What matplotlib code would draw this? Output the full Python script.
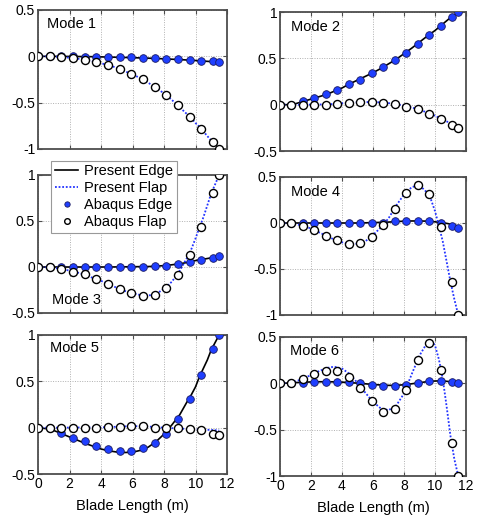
import numpy as np
import matplotlib
matplotlib.use("Agg")
import matplotlib.pyplot as plt

plt.rcParams['font.family'] = ['Liberation Sans', 'DejaVu Sans']
plt.rcParams['axes.unicode_minus'] = False

# Abaqus sample positions (m)
x_abaqus = [0.0, 0.74, 1.48, 2.22, 2.96, 3.7, 4.44, 5.18, 5.92, 6.66,
            7.4, 8.14, 8.88, 9.62, 10.36, 11.1, 11.5]
# Present-model curve positions (m)
x_present = [0.0, 0.5, 1.0, 1.5, 2.0, 2.5, 3.0, 3.5, 4.0, 4.5, 5.0, 5.5,
             6.0, 6.5, 7.0, 7.5, 8.0, 8.5, 9.0, 9.5, 9.75, 10.0, 10.25,
             10.5, 10.75, 11.0, 11.25, 11.5]

# ---- Mode 1 ----
m1_present_edge = [0, 0, 0, -0.001, -0.001, -0.002, -0.003, -0.004, -0.006, -0.008,
                   -0.01, -0.012, -0.015, -0.017, -0.02, -0.023, -0.027, -0.031,
                   -0.035, -0.04, -0.043, -0.045, -0.048, -0.051, -0.054, -0.057,
                   -0.061, -0.065]
m1_present_flap = [0, 0, -0.002, -0.007, -0.015, -0.025, -0.037, -0.055, -0.075,
                   -0.095, -0.125, -0.16, -0.195, -0.235, -0.285, -0.34, -0.40,
                   -0.47, -0.55, -0.63, -0.67, -0.72, -0.76, -0.81, -0.86, -0.91,
                   -0.95, -1.0]
m1_abaqus_edge = [0, 0, 0, 0, -0.002, -0.004, -0.006, -0.009, -0.012, -0.016,
                  -0.02, -0.025, -0.03, -0.037, -0.045, -0.055, -0.065]
m1_abaqus_flap = [0, 0, -0.007, -0.02, -0.035, -0.065, -0.09, -0.14, -0.19,
                  -0.25, -0.33, -0.42, -0.53, -0.65, -0.78, -0.92, -1.0]

# ---- Mode 2 ----
m2_present_edge = [0, 0, 0.01, 0.035, 0.06, 0.085, 0.11, 0.145, 0.18, 0.225,
                   0.265, 0.305, 0.345, 0.39, 0.44, 0.49, 0.55, 0.61, 0.675,
                   0.74, 0.77, 0.80, 0.835, 0.87, 0.905, 0.94, 0.97, 1.0]
m2_present_flap = [0, 0, 0, 0, 0.001, 0.002, 0.003, 0.008, 0.015, 0.02, 0.025,
                   0.028, 0.028, 0.025, 0.017, 0.005, -0.01, -0.03, -0.055,
                   -0.085, -0.1, -0.12, -0.14, -0.16, -0.18, -0.205, -0.23, -0.25]
m2_abaqus_edge = [0, 0, 0.04, 0.07, 0.11, 0.16, 0.22, 0.27, 0.34, 0.41, 0.48,
                  0.56, 0.66, 0.75, 0.85, 0.95, 1.0]
m2_abaqus_flap = [0, 0, 0, 0, 0, 0.007, 0.015, 0.025, 0.03, 0.02, 0.007,
                  -0.02, -0.05, -0.1, -0.15, -0.22, -0.25]

# ---- Mode 3 ----
m3_present_edge = [0, 0, 0, 0, 0, 0, 0, 0, 0, 0, 0.001, 0.002, 0.003, 0.004,
                   0.005, 0.009, 0.015, 0.024, 0.035, 0.05, 0.06, 0.07, 0.077,
                   0.085, 0.092, 0.1, 0.11, 0.12]
m3_present_flap = [0, -0.003, -0.01, -0.02, -0.04, -0.06, -0.085, -0.12, -0.15,
                   -0.19, -0.225, -0.26, -0.285, -0.305, -0.31, -0.295, -0.235,
                   -0.16, -0.04, 0.11, 0.2, 0.31, 0.43, 0.54, 0.67, 0.80, 0.9, 1.0]
m3_abaqus_edge = [0, 0, 0, 0, 0, 0, 0, 0, 0.002, 0.004, 0.007, 0.015, 0.03,
                  0.05, 0.08, 0.1, 0.12]
m3_abaqus_flap = [0, 0, -0.02, -0.05, -0.08, -0.13, -0.18, -0.235, -0.28,
                  -0.31, -0.30, -0.23, -0.09, 0.13, 0.44, 0.80, 1.0]

# ---- Mode 4 ----
m4_present_edge = [0, 0, 0, 0, 0, 0, 0, 0, 0, 0, 0, 0.002, 0.004, 0.007, 0.01,
                   0.015, 0.02, 0.022, 0.022, 0.02, 0.017, 0.013, 0.008, 0.003,
                   -0.004, -0.012, -0.022, -0.035]
m4_present_flap = [0, -0.003, -0.012, -0.03, -0.06, -0.1, -0.14, -0.18, -0.21,
                   -0.23, -0.225, -0.2, -0.13, -0.05, 0.05, 0.19, 0.31, 0.39,
                   0.41, 0.33, 0.25, 0.13, -0.03, -0.2, -0.42, -0.64, -0.83, -1.0]
m4_abaqus_edge = [0, 0, 0, 0, 0, 0, 0, 0, 0, 0.005, 0.018, 0.025, 0.025,
                  0.018, 0.0, -0.036, -0.055]
m4_abaqus_flap = [0, 0, -0.03, -0.08, -0.138, -0.19, -0.23, -0.22, -0.15,
                  -0.018, 0.156, 0.33, 0.415, 0.316, -0.047, -0.64, -1.0]

# ---- Mode 5 ----
m5_present_edge = [0, -0.01, -0.03, -0.065, -0.1, -0.135, -0.17, -0.2, -0.23,
                   -0.25, -0.263, -0.268, -0.265, -0.245, -0.21, -0.15, -0.07,
                   0.03, 0.14, 0.29, 0.36, 0.44, 0.55, 0.64, 0.73, 0.84, 0.92, 1.0]
m5_present_flap = [0, 0, 0, 0, 0.001, 0.002, 0.002, 0.003, 0.003, 0.006, 0.01,
                   0.014, 0.017, 0.015, 0.012, 0.006, 0.0, -0.005, -0.01, -0.014,
                   -0.016, -0.018, -0.02, -0.021, -0.023, -0.025, -0.027, -0.03]
m5_abaqus_edge = [0, -0.007, -0.058, -0.108, -0.148, -0.195, -0.227, -0.252,
                  -0.252, -0.224, -0.17, -0.068, 0.097, 0.306, 0.566, 0.845, 1.0]
m5_abaqus_flap = [0, 0, 0, -0.002, -0.002, 0, 0.004, 0.01, 0.02, 0.018, 0,
                  -0.007, -0.007, -0.01, -0.03, -0.065, -0.083]

# ---- Mode 6 ----
m6_present_edge = [0, 0.003, 0.008, 0.012, 0.015, 0.017, 0.017, 0.016, 0.013,
                   0.008, 0.002, -0.005, -0.012, -0.018, -0.022, -0.022, -0.015,
                   -0.005, 0.007, 0.018, 0.022, 0.025, 0.026, 0.025, 0.022,
                   0.017, 0.012, 0.007]
m6_present_flap = [0, 0.005, 0.02, 0.05, 0.09, 0.13, 0.165, 0.18, 0.16, 0.1,
                   0.005, -0.1, -0.2, -0.27, -0.29, -0.24, -0.11, 0.1, 0.3,
                   0.44, 0.46, 0.41, 0.26, 0.05, -0.25, -0.57, -0.82, -1.0]
m6_abaqus_edge = [0, 0.003, 0.008, 0.015, 0.015, 0.015, 0.015, 0.0, -0.015,
                  -0.025, -0.029, -0.015, 0.007, 0.025, 0.025, 0.015, 0.007]
m6_abaqus_flap = [0, 0.007, 0.043, 0.098, 0.138, 0.138, 0.072, -0.047, -0.19,
                  -0.31, -0.28, -0.076, 0.25, 0.43, 0.145, -0.64, -1.0]

mode_labels = ["Mode 1", "Mode 2", "Mode 3", "Mode 4", "Mode 5", "Mode 6"]
x_ticks = [0, 2, 4, 6, 8, 10, 12]
x_label = "Blade Length (m)"
legend_labels = ["Present Edge", "Present Flap", "Abaqus Edge", "Abaqus Flap"]

modes = [
    (m1_present_edge, m1_present_flap, m1_abaqus_edge, m1_abaqus_flap),
    (m2_present_edge, m2_present_flap, m2_abaqus_edge, m2_abaqus_flap),
    (m3_present_edge, m3_present_flap, m3_abaqus_edge, m3_abaqus_flap),
    (m4_present_edge, m4_present_flap, m4_abaqus_edge, m4_abaqus_flap),
    (m5_present_edge, m5_present_flap, m5_abaqus_edge, m5_abaqus_flap),
    (m6_present_edge, m6_present_flap, m6_abaqus_edge, m6_abaqus_flap),
]
ylims = [(-1, 0.5), (-0.5, 1), (-0.5, 1), (-1, 0.5), (-0.5, 1), (-1, 0.5)]

W, H = 484, 520
fig = plt.figure(figsize=(W / 100, H / 100), dpi=100)

# axes rectangles in pixels (left, top, right, bottom)
rects_px = [
    (38, 10, 227, 149), (280, 12, 466, 151),
    (38, 175, 227, 313), (280, 177, 466, 315),
    (38, 335, 227, 474), (280, 337, 466, 476),
]
label_pos = [(0.05, 0.95, 'top'), (0.06, 0.94, 'top'), (0.075, 0.04, 'bottom'),
             (0.06, 0.94, 'top'), (0.065, 0.955, 'top'), (0.055, 0.95, 'top')]

frame_col = '#4d4d4d'
blue = '#1f3fff'
axes = []
for k, (l, t, r, b) in enumerate(rects_px):
    ax = fig.add_axes([l / W, 1 - b / H, (r - l) / W, (b - t) / H])
    axes.append(ax)
    pe, pf, ae, af = modes[k]
    ax.plot(x_present, pe, color='black', lw=1.2, zorder=3, label=legend_labels[0])
    ax.plot(x_present, pf, color='#2233ff', lw=1.3, ls=(0, (1, 1)), zorder=3,
            label=legend_labels[1])
    ax.plot(x_abaqus, ae, ls='none', marker='o', ms=5.5, mfc=blue, mec='#1a1a60',
            mew=0.6, zorder=4, label=legend_labels[2])
    ax.plot(x_abaqus, af, ls='none', marker='o', ms=5.8, mfc='white', mec='black',
            mew=1.0, zorder=5, label=legend_labels[3])
    ax.set_xlim(0, 12)
    ax.set_ylim(*ylims[k])
    ax.set_xticks(x_ticks)
    lo, hi = ylims[k]
    yt = [lo + 0.5 * i for i in range(4)]
    ax.set_yticks(yt)
    ax.set_yticklabels([('%g' % v) for v in yt])
    ax.grid(True, color='#b0b0b0', ls=(0, (1, 1.5)), lw=0.7)
    ax.set_axisbelow(True)
    for s in ax.spines.values():
        s.set_color(frame_col)
        s.set_linewidth(1.3)
    ax.tick_params(direction='in', length=3, width=0.8, color=frame_col,
                   labelsize=10, pad=2, top=True, right=True)
    if k < 4:
        ax.tick_params(labelbottom=False)
    else:
        ax.set_xlabel(x_label, fontsize=10.5, labelpad=6)
    lx, ly, va = label_pos[k]
    ax.text(lx, ly, mode_labels[k], transform=ax.transAxes, fontsize=10.5,
            ha='left', va=va, zorder=6)

# legend on Mode 3 panel, extending above its top edge
h, lab = axes[2].get_legend_handles_labels()
leg = axes[2].legend(h, lab, loc='upper left', bbox_to_anchor=(0.07, 1.105),
                     fontsize=10.5, frameon=True, fancybox=False, framealpha=1,
                     edgecolor='#999999', handlelength=1.6, handletextpad=0.4,
                     borderpad=0.25, labelspacing=0.2, markerscale=0.7,
                     borderaxespad=0)
leg.get_frame().set_linewidth(0.8)
leg.set_zorder(10)

fig.savefig('out.png', dpi=100)
